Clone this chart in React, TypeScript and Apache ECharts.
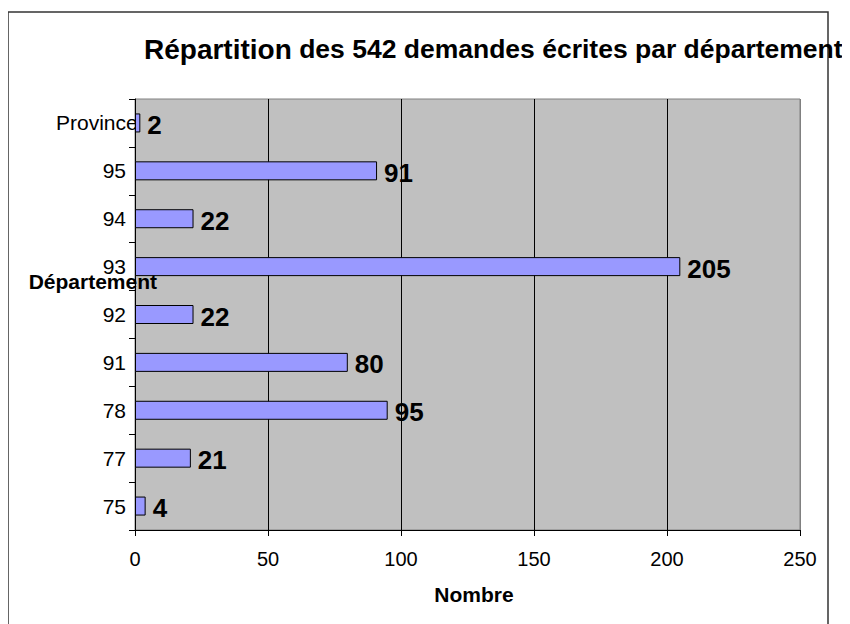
import React, { useEffect, useRef } from "react";
import * as echarts from "echarts";

const categories = ["75", "77", "78", "91", "92", "93", "94", "95", "Province"];
const values = [4, 21, 95, 80, 22, 205, 22, 91, 2];
const xTicks = { min: 0, max: 250, interval: 50 };
const titleMain = "Répartition";
const titleRest = " des 542 demandes écrites par département";
const yName = "Département";
const xName = "Nombre";

const FONT = '"Liberation Sans", Arial, sans-serif';

export default function App() {
  const ref = useRef<HTMLDivElement>(null);
  useEffect(() => {
    if (!ref.current) return;
    const chart = echarts.init(ref.current, null, { renderer: "svg" });
    chart.setOption({
      animation: false,
      backgroundColor: "#ffffff",
      textStyle: { fontFamily: FONT },
      title: {
        text: `{a|${titleMain}}{b|${titleRest}}`,
        left: 131,
        top: 22,
        textStyle: {
          rich: {
            a: { fontFamily: FONT, fontWeight: "bold", fontSize: 28, color: "#000" },
            b: { fontFamily: FONT, fontWeight: "bold", fontSize: 26.5, color: "#000" },
          },
        },
      },
      grid: {
        left: 127,
        top: 91,
        right: 42,
        bottom: 94,
        show: true,
        backgroundColor: "#c0c0c0",
        borderColor: "#808080",
        borderWidth: 1,
        containLabel: false,
      },
      xAxis: {
        type: "value",
        min: xTicks.min,
        max: xTicks.max,
        interval: xTicks.interval,
        name: xName,
        nameLocation: "middle",
        nameGap: 54,
        nameTextStyle: {
          fontFamily: FONT,
          fontWeight: "bold",
          fontSize: 21,
          color: "#000",
          padding: [0, 0, 0, 13],
        },
        axisLine: { show: true, lineStyle: { color: "#000", width: 1 } },
        axisTick: { show: true, length: 6, lineStyle: { color: "#000" } },
        axisLabel: { fontFamily: FONT, fontSize: 20, color: "#000", margin: 19 },
        splitLine: {
          show: true,
          lineStyle: { color: ["#000", "#000", "#000", "#000", "#000", "#808080"], width: 1 },
        },
      },
      yAxis: {
        type: "category",
        data: categories,
        axisLine: { show: true, lineStyle: { color: "#000", width: 1 } },
        axisTick: { show: true, length: 6, alignWithLabel: false, lineStyle: { color: "#000" } },
        axisLabel: {
          fontFamily: FONT,
          fontSize: 21,
          color: "#000",
          margin: 9,
          formatter: (v: string) => (v === "Province" ? `{p|${v}}` : v),
          rich: {
            p: { fontFamily: FONT, fontSize: 21, color: "#000", width: 70, align: "left" },
          },
        },
        splitLine: { show: false },
      },
      graphic: [
        {
          type: "rect",
          z: 0,
          silent: true,
          shape: { x: 0, y: 4, width: 820, height: 700 },
          style: { fill: "none", stroke: "#333", lineWidth: 1.5 },
        },
        {
          type: "text",
          z: 100,
          style: {
            text: yName,
            x: 149,
            y: 273,
            align: "right",
            verticalAlign: "middle",
            font: `bold 21px ${FONT}`,
            fill: "#000",
          },
        },
      ],
      series: [
        {
          type: "bar",
          data: values,
          barWidth: 19,
          itemStyle: { color: "#9999ff", borderColor: "#000", borderWidth: 1 },
          label: {
            show: true,
            position: "right",
            distance: 7,
            offset: [0, 2],
            fontFamily: FONT,
            fontWeight: "bold",
            fontSize: 26,
            color: "#000",
          },
        },
      ],
    });
    return () => chart.dispose();
  }, []);
  return <div ref={ref} style={{ width: 834, height: 616 }} />;
}
